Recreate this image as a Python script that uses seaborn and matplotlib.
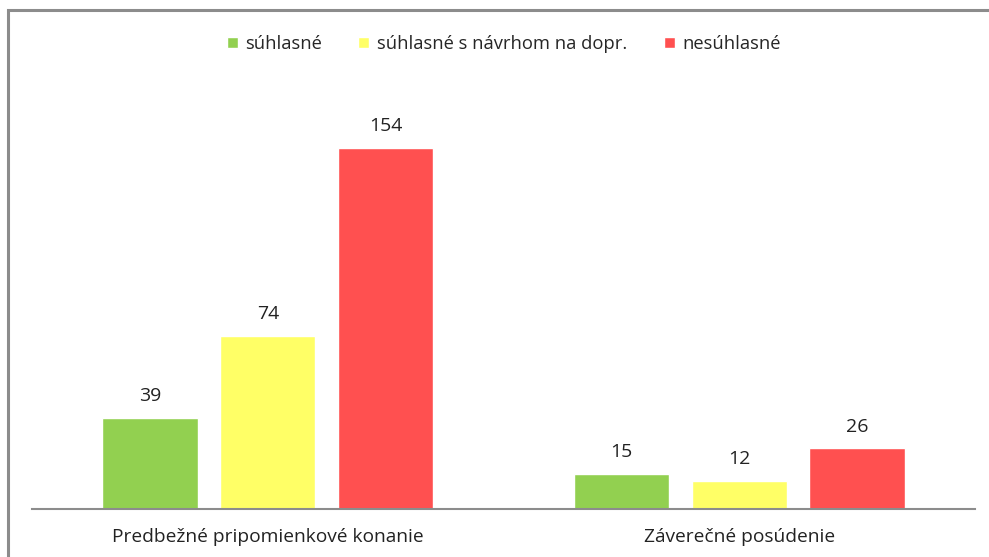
import pandas as pd
import seaborn as sns
import matplotlib.pyplot as plt
from matplotlib.patches import Rectangle

categories = ["Predbežné pripomienkové konanie", "Záverečné posúdenie"]
series = ["súhlasné", "súhlasné s návrhom na dopr.", "nesúhlasné"]
suhlasne = [39, 15]
suhlasne_dopr = [74, 12]
nesuhlasne = [154, 26]
colors = ["#92D050", "#FFFF66", "#FF5050"]

rows = []
for i, cat in enumerate(categories):
    for s, vals in zip(series, [suhlasne, suhlasne_dopr, nesuhlasne]):
        rows.append({"kategoria": cat, "typ": s, "pocet": vals[i]})
df = pd.DataFrame(rows)

sns.set_style("white")
plt.rcParams['font.family'] = ['Open Sans', 'DejaVu Sans']

fig = plt.figure(figsize=(9.89, 5.57), dpi=100)
ax = fig.add_axes([32/989, 48/557, 943/989, 422/557])

sns.barplot(data=df, x="kategoria", y="pocet", hue="typ", hue_order=series,
            palette=colors, width=0.75, gap=0.19, saturation=1, ax=ax)

for cont in ax.containers:
    ax.bar_label(cont, padding=9, fontsize=14, color="#222222")

ax.set_xlim(-0.5, 1.5)
ax.set_ylim(0, 180)
ax.set_yticks([])
ax.set_xlabel("")
ax.set_ylabel("")
ax.tick_params(axis="x", length=0, pad=14, labelsize=13.8, labelcolor="#222222")
for side in ["top", "right", "left"]:
    ax.spines[side].set_visible(False)
ax.spines["bottom"].set_color("#8c8c8c")
ax.spines["bottom"].set_linewidth(1.5)

ax.legend(loc="center", bbox_to_anchor=(0.5, (557 - 44 - 48) / 422), ncol=3,
          frameon=False, fontsize=13.2, handlelength=0.6, handleheight=0.6,
          handletextpad=0.4, columnspacing=2.0)

# outer chart border
fig.patches.append(Rectangle((8/989, -0.05), 1.1, 1.05 - 10/557, transform=fig.transFigure,
                             fill=False, edgecolor="#8c8c8c", linewidth=2.2))

fig.savefig("out.png", dpi=100)
